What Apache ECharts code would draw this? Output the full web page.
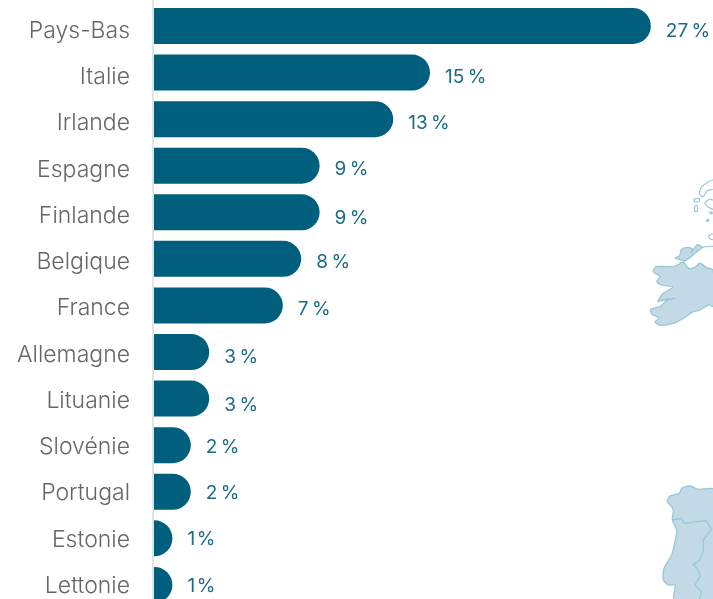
<!DOCTYPE html>
<html><head><meta charset="utf-8">
<style>html,body{margin:0;padding:0;background:#fff;overflow:hidden}#c{width:713px;height:599px}</style>
<script src="https://cdn.jsdelivr.net/npm/echarts@6/dist/echarts.min.js"></script>
</head><body><div id="c"></div>
<script>
const categories = ['Pays-Bas','Italie','Irlande','Espagne','Finlande','Belgique','France','Allemagne','Lituanie','Slovénie','Portugal','Estonie','Lettonie'];
const shares = [27,15,13,9,9,8,7,3,3,2,2,1,1];
// Small vertical misalignments of the value labels seen in the reference
const valueLabelNudge = [0,0,0,0,2,0,1,3,4,0,0,0,0];

// Decorative background map outlines (zoomed-crop coordinates: [originX, originY], points / 3)
const irelandOrigin = [620,170];
const donegal = [[165,265],[178,258],[185,238],[205,232],[218,238],[213,250],[232,224],[246,232],[230,245],[210,262],[195,272],[178,268]];
const ireland = [[192,278],[205,295],[225,292],[240,280],[258,292],[279,300],[285,410],[265,405],[240,420],[220,425],[190,445],[160,460],[120,466],[105,455],[118,445],[95,432],[92,418],[120,410],[140,392],[165,385],[130,390],[113,395],[130,370],[158,352],[125,345],[110,335],[120,320],[100,305],[108,290],[145,290],[165,288],[185,278]];
const ulster = [[192,278],[205,295],[225,292],[240,280],[258,292],[285,300],[285,232],[246,232],[230,245],[210,262],[195,272]];
const isles = [
  [[238,72],[245,50],[279,30],[285,55],[262,62],[250,80]],
  [[222,88],[238,86],[238,94],[224,95]],
  [[225,108],[232,108],[232,124],[224,124]],
  [[255,98],[270,88],[285,95],[285,118],[265,112]],
  [[266,198],[278,192],[285,195],[285,208],[272,208]],
  [[258,152],[266,148],[266,154]],
  [[268,128],[276,126],[276,132]]
];
const iberiaOrigin = [640,470];
const iberia = [[225,60],[175,58],[150,48],[125,55],[118,70],[90,78],[82,95],[95,110],[100,122],[97,150],[110,180],[105,215],[95,255],[72,295],[70,330],[85,345],[105,345],[103,395],[225,395]];
const iberiaBorder = [[97,150],[125,145],[133,160],[170,155],[198,152],[215,178],[190,210],[190,240],[180,270],[160,283],[175,300],[180,320],[165,345],[185,365],[175,395]];

const fontFamily = 'Inter, "Noto Sans", sans-serif';
const toPx = (pts, o) => pts.map(p => [o[0]+p[0]/3, o[1]+p[1]/3]);
const landStyle = {fill:'#c3d9e5', stroke:'#98c8d6', lineWidth:1.3};
const blank = {fill:'#fff', stroke:'#98c8d6', lineWidth:1.2};
const poly = (pts,o,style) => ({type:'polygon', silent:true, z:-1, shape:{points:toPx(pts,o),smooth:0.25}, style});
const line = (pts,o) => ({type:'polyline', silent:true, z:-1, shape:{points:toPx(pts,o)}, style:{fill:'none', stroke:'#98c8d6', lineWidth:1.3}});

const chart = echarts.init(document.getElementById('c'), null, {renderer:'canvas'});
chart.setOption({
  animation:false,
  backgroundColor:'#fff',
  graphic:{elements:[
    poly(ulster,irelandOrigin,blank),
    poly(donegal,irelandOrigin,landStyle),
    poly(ireland,irelandOrigin,landStyle),
    ...isles.map(s=>poly(s,irelandOrigin,blank)),
    poly(iberia,iberiaOrigin,landStyle),
    line(iberiaBorder,iberiaOrigin),
    {type:'line',silent:true,z:-1,shape:{x1:153,y1:0,x2:153,y2:599},style:{stroke:'#e3e3e3',lineWidth:2}}
  ]},
  grid:[
    {left:154,top:2.7,height:605.5,width:552,outerBoundsMode:'none'},
    {left:154,top:7.9,height:601.25,width:552,outerBoundsMode:'none'}
  ],
  xAxis:[
    {type:'value',gridIndex:0,min:0,max:30,show:false},
    {type:'value',gridIndex:1,min:0,max:30,show:false}
  ],
  yAxis:[
    {type:'category',gridIndex:0,inverse:true,data:categories,
      axisLine:{show:false},axisTick:{show:false},splitLine:{show:false},axisLabel:{show:false}},
    {type:'category',gridIndex:1,inverse:true,data:categories,
      axisLine:{show:false},axisTick:{show:false},splitLine:{show:false},
      axisLabel:{color:'#666',fontFamily,fontSize:23,fontWeight:300,margin:24}}
  ],
  series:[
    {type:'bar',xAxisIndex:0,yAxisIndex:0,data:shares,barWidth:36,
      itemStyle:{color:'#005f7d',borderRadius:[0,18,18,0]}},
    {type:'bar',xAxisIndex:1,yAxisIndex:1,barWidth:36,
      data:shares.map((v,i)=>({value:v,label:{offset:[0,valueLabelNudge[i]]}})),
      itemStyle:{color:'transparent'},
      label:{show:true,position:'right',distance:15,color:'#1a6b85',fontFamily,fontSize:19,
        formatter:p=>p.value+(p.value===1?'\u200a':'\u2009')+'%'}}
  ]
});
</script></body></html>
